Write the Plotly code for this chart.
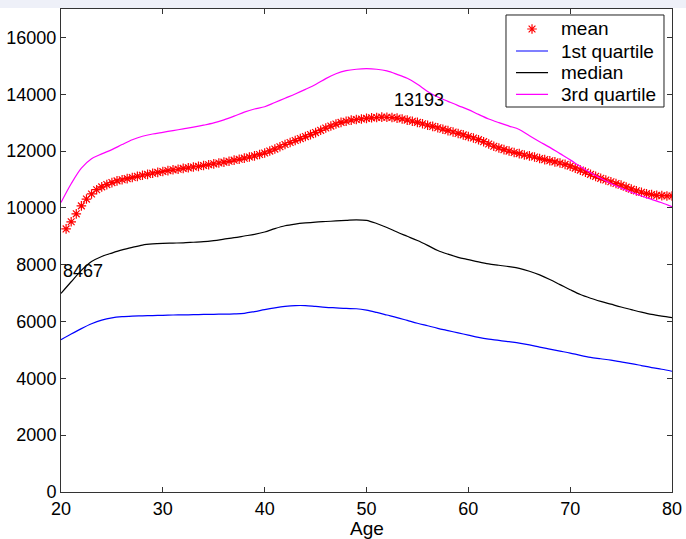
import plotly.graph_objects as go

# Ages for the quartile curves (one value per year)
ages = list(range(20, 81))

# Mean income, sampled every half year from 20.5 to 80
mean_ages = [20.5 + 0.5 * i for i in range(120)]
mean_vals = [
    9260, 9510, 9790, 10070, 10310, 10490, 10640, 10740, 10820, 10890,
    10950, 10990, 11030, 11070, 11110, 11150, 11180, 11220, 11250, 11280,
    11310, 11340, 11360, 11390, 11410, 11440, 11460, 11490, 11520, 11550,
    11580, 11610, 11640, 11680, 11710, 11750, 11790, 11830, 11880, 11930,
    12000, 12070, 12150, 12230, 12300, 12370, 12440, 12510, 12580, 12650,
    12730, 12810, 12880, 12950, 13010, 13050, 13090, 13110, 13130, 13150,
    13170, 13180, 13193, 13190, 13180, 13160, 13130, 13090, 13050, 13010,
    12960, 12910, 12870, 12820, 12770, 12720, 12670, 12620, 12570, 12510,
    12460, 12400, 12330, 12250, 12170, 12110, 12050, 12000, 11950, 11910,
    11860, 11830, 11790, 11740, 11700, 11660, 11620, 11580, 11530, 11470,
    11400, 11330, 11260, 11180, 11110, 11040, 10980, 10920, 10860, 10800,
    10730, 10660, 10600, 10550, 10500, 10470, 10440, 10430, 10420, 10420,
]

q1_vals = [
    5360, 5560, 5750, 5920, 6050, 6130, 6170, 6190, 6200, 6210,
    6220, 6230, 6235, 6240, 6250, 6255, 6260, 6270, 6290, 6350,
    6420, 6480, 6530, 6560, 6560, 6530, 6500, 6480, 6460, 6450,
    6400, 6320, 6230, 6140, 6040, 5940, 5850, 5760, 5680, 5600,
    5520, 5440, 5380, 5340, 5290, 5240, 5180, 5100, 5030, 4960,
    4890, 4810, 4740, 4690, 4640, 4580, 4520, 4450, 4380, 4320,
    4250,
]

median_vals = [
    6990, 7400, 7800, 8110, 8290, 8410, 8520, 8610, 8690, 8730,
    8750, 8760, 8770, 8790, 8810, 8850, 8900, 8950, 9010, 9070,
    9150, 9270, 9370, 9430, 9470, 9500, 9520, 9540, 9560, 9580,
    9560, 9450, 9310, 9150, 9000, 8850, 8680, 8500, 8370, 8260,
    8180, 8100, 8030, 7980, 7930, 7870, 7770, 7640, 7480, 7300,
    7120, 6950, 6820, 6710, 6610, 6510, 6420, 6330, 6250, 6190,
    6140,
]

q3_vals = [
    10190, 10850, 11400, 11730, 11900, 12050, 12230, 12400, 12520, 12600,
    12660, 12720, 12780, 12840, 12910, 12990, 13100, 13230, 13370, 13480,
    13560, 13710, 13860, 14010, 14170, 14340, 14550, 14720, 14830, 14880,
    14900, 14880, 14820, 14700, 14560, 14350, 14100, 13900, 13750, 13600,
    13460, 13290, 13130, 13000, 12880, 12760, 12540, 12330, 12130, 11910,
    11690, 11460, 11240, 11040, 10860, 10700, 10550, 10420, 10300, 10180,
    10040,
]

# Text labels placed on the axes
label_texts = ["8467", "13193"]
label_x = [20, 52.5]
label_y = [7790, 13790]

x_ticks = [20, 30, 40, 50, 60, 70, 80]
y_ticks = [0, 2000, 4000, 6000, 8000, 10000, 12000, 14000, 16000]

# Legend entries
legend_names = ["mean", "1st quartile", "median", "3rd quartile"]
legend_colors = ["#ff0000", "#0000ff", "#000000", "#ff00ff"]

FONT = "Liberation Sans, Arial, Helvetica, sans-serif"
RED = "#ff0000"

fig = go.Figure()

fig.add_trace(go.Scatter(
    x=mean_ages, y=mean_vals, mode="markers", name=legend_names[0],
    marker=dict(symbol="asterisk-open", size=8, color=RED,
                line=dict(color=RED, width=1.2)),
    showlegend=False,
))
for vals, name, col in zip([q1_vals, median_vals, q3_vals],
                           legend_names[1:], legend_colors[1:]):
    fig.add_trace(go.Scatter(
        x=ages, y=vals, mode="lines", name=name,
        line=dict(color=col, width=1.2, shape="spline", smoothing=0.9),
        showlegend=False,
    ))

for t, lx, ly in zip(label_texts, label_x, label_y):
    fig.add_annotation(x=lx, y=ly, text=t, showarrow=False,
                       xanchor="left", yanchor="middle",
                       font=dict(family=FONT, size=18, color="#000000"))

# ---- boxed legend drawn in the upper-right corner of the axes ----
box_x0, box_x1 = 0.7283, 0.9869
box_y0, box_y1 = 0.7971, 0.9876
row_y = [0.9586, 0.9130, 0.8681, 0.8234]
sample_x0, sample_x1 = 0.7447, 0.7971
text_x = 0.8151

fig.add_shape(type="rect", xref="paper", yref="paper",
              x0=box_x0, x1=box_x1, y0=box_y0, y1=box_y1,
              fillcolor="#ffffff", line=dict(color="#222222", width=1),
              layer="below")
for name, col, ry in zip(legend_names, legend_colors, row_y):
    if name != "mean":
        fig.add_shape(type="line", xref="paper", yref="paper",
                      x0=sample_x0, x1=sample_x1, y0=ry, y1=ry,
                      line=dict(color=col, width=1.2))
    fig.add_annotation(xref="paper", yref="paper", x=text_x, y=ry,
                       text=name, showarrow=False,
                       xanchor="left", yanchor="middle",
                       font=dict(family=FONT, size=19, color="#000000"))

# asterisk sample for the mean, placed on an overlay axis spanning [0, 1]
fig.add_trace(go.Scatter(
    x=[(sample_x0 + sample_x1) / 2], y=[row_y[0]], mode="markers",
    xaxis="x2", yaxis="y2", showlegend=False, hoverinfo="skip",
    marker=dict(symbol="asterisk-open", size=8, color=RED,
                line=dict(color=RED, width=1.2)),
))

# x-axis title
fig.add_annotation(xref="paper", yref="paper", x=0.5, y=0, yshift=-24,
                   text="Age", showarrow=False, xanchor="center", yanchor="top",
                   font=dict(family=FONT, size=19, color="#000000"))

axis_common = dict(
    showline=True, linecolor="#333333", linewidth=1, mirror="ticks",
    ticks="inside", ticklen=5, tickcolor="#333333", showgrid=False,
    zeroline=False, automargin=False,
    tickfont=dict(family=FONT, size=18, color="#000000"),
)

fig.update_xaxes(range=[20, 80], tickvals=x_ticks, **axis_common)
fig.update_yaxes(range=[0, 17000], tickvals=y_ticks, tickformat="d",
                 **axis_common)

# thin tinted band along the top edge of the page
fig.add_shape(type="rect", xref="paper", yref="paper",
              x0=-0.2, x1=1.2, y0=1.002, y1=1.03,
              fillcolor="#eef0f8", line=dict(width=0), layer="below")

fig.update_layout(
    width=686, height=539,
    margin=dict(l=61, r=14, t=9, b=47),
    paper_bgcolor="#ffffff", plot_bgcolor="#ffffff",
    font=dict(family=FONT, size=18, color="#000000"),
    showlegend=False,
    xaxis2=dict(overlaying="x", range=[0, 1], visible=False, fixedrange=True),
    yaxis2=dict(overlaying="y", range=[0, 1], visible=False, fixedrange=True),
)

fig.write_html("out.html")
